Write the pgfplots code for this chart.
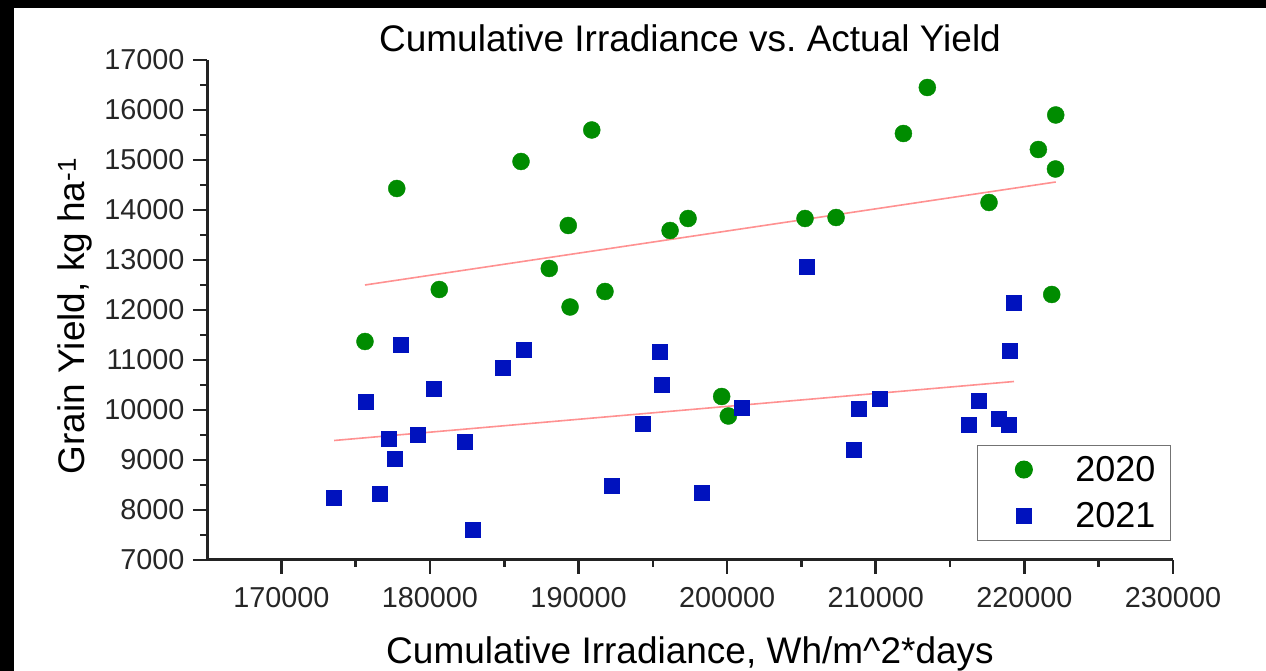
\documentclass[border=0pt]{standalone}
\usepackage{fontspec}
\setmainfont{Liberation Sans}
\usepackage{pgfplots}
\pgfplotsset{compat=1.18}
\definecolor{ptgreen}{RGB}{0,140,0}
\definecolor{ptblue}{RGB}{0,18,190}
\definecolor{fitred}{RGB}{255,145,145}
\definecolor{axgray}{RGB}{35,35,35}
\pgfplotstableread{
x y
175630 11370
177770 14430
180630 12410
186130 14970
188030 12830
189310 13690
189430 12060
190890 15600
191780 12370
196160 13590
197370 13830
199630 10270
200080 9880
205240 13830
207330 13850
211860 15530
213470 16450
217620 14150
220940 15210
222110 15900
222090 14820
221840 12310
}\yrA
\pgfplotstableread{
x y
173550 8250
175680 10170
176620 8320
177200 9430
177630 9020
178050 11310
179180 9500
180230 10430
182360 9370
182880 7600
184900 10850
186280 11200
192230 8480
194320 9720
195480 11170
195600 10510
198290 8350
200980 10050
205350 12870
208540 9200
208870 10030
210240 10220
216280 9710
216950 10190
218290 9830
218920 9700
219030 11190
219300 12150
}\yrB
\begin{document}
\frenchspacing
\begin{tikzpicture}[x=1pt,y=1pt]
\path[use as bounding box] (0,0) rectangle (1266,671);
\fill[white] (0,0) rectangle (1266,671);
\fill[black] (0,663) rectangle (1266,671);
\fill[black] (0,0) rectangle (14,671);
\begin{axis}[
  at={(207pt,111pt)}, anchor=south west,
  scale only axis, width=966pt, height=500pt,
  xmin=165000, xmax=230000, ymin=7000, ymax=17000,
  axis x line*=bottom, axis y line*=left,
  axis line style={line width=3pt, color=axgray, -},
  xtick={170000,180000,...,230000},
  ytick={7000,8000,...,17000},
  minor x tick num=1, minor y tick num=1,
  tick align=outside,
  major tick length=14pt, minor tick length=7pt,
  major tick style={line width=2.6pt, color=axgray},
  minor tick style={line width=2.6pt, color=axgray},
  scaled ticks=false,
  /pgf/number format/.cd, fixed, precision=0, 1000 sep={}, assume math mode=true, /pgfplots/.cd,
  tick label style={font=\fontsize{28.8}{34}\selectfont, color=black!85},
  xticklabel style={yshift=-10pt},
  yticklabel style={xshift=-5pt},
  title={Cumulative Irradiance vs.\ Actual Yield},
  title style={at={(0.5,1.016)}, anchor=base, yshift=-6pt, font=\fontsize{37}{44}\selectfont, inner sep=0pt},
  xlabel={Cumulative Irradiance, Wh/m\^{}2*days},
  xlabel style={at={(axis description cs:0.5,-0.208)}, anchor=base, font=\fontsize{37}{44}\selectfont, inner sep=0pt},
  ylabel={Grain Yield, kg ha\textsuperscript{-1}},
  ylabel style={at={(axis description cs:-0.1263,0.488)}, anchor=base, font=\fontsize{37}{44}\selectfont, inner sep=0pt},
  legend style={at={(axis description cs:0.9979,0.038)}, anchor=south east,
    draw=black!55, line width=1pt, font=\fontsize{36}{43}\selectfont,
    inner xsep=11pt, inner ysep=8pt, row sep=14pt,
    nodes={inner xsep=4pt, inner ysep=3pt}},
  legend cell align=left,
  legend image code/.code={\path (0pt,0pt) (82pt,0pt); \draw[#1, only marks] plot coordinates {(35pt,0pt)};},
]
\addplot[only marks, mark=*, mark size=8.5pt, draw=ptgreen, fill=ptgreen, mark options={draw=ptgreen, fill=ptgreen}] table[x=x,y=y] {\yrA};
\addlegendentry{2020}
\addplot[only marks, mark=square*, mark size=7.5pt, draw=ptblue, fill=ptblue, mark options={draw=ptblue, fill=ptblue}] table[x=x,y=y] {\yrB};
\addlegendentry{2021}
\addplot[fitred, line width=1.6pt, forget plot] coordinates {(175630,12500) (222110,14560)};
\addplot[fitred, line width=1.6pt, forget plot] coordinates {(173550,9390) (219300,10570)};
\end{axis}
\end{tikzpicture}
\end{document}
